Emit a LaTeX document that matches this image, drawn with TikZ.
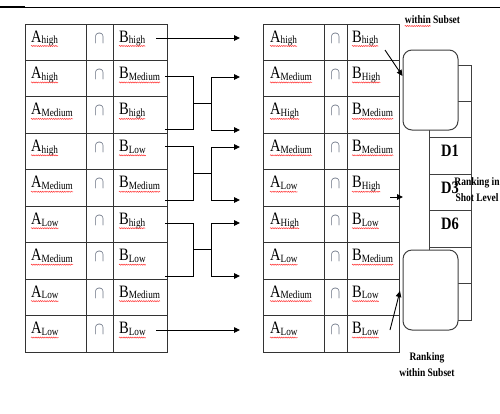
\documentclass[tikz,border=0pt]{standalone}
\usepackage{fontspec}
\setmainfont{Liberation Serif}
\usetikzlibrary{arrows.meta,decorations.pathmorphing}
\definecolor{capcol}{RGB}{75,85,105}
\tikzset{
  gridline/.style={line width=1pt, draw=black!80},
  conn/.style={line width=0.9pt, draw=black},
  arr/.style={conn, -{Triangle[length=6pt,width=5.5pt]}},
  celltext/.style={inner sep=0pt, anchor=base west, font=\fontsize{14.5}{16}\selectfont},
  captext/.style={inner sep=0pt, anchor=base, font=\fontsize{14.5}{16}\selectfont, text=capcol},
  squig/.style={draw=red!80, line width=0.5pt, decorate, decoration={snake, amplitude=0.55pt, segment length=2.2pt}},
  rbox/.style={draw=black!75, line width=1pt, rounded corners=9pt, fill=white, minimum width=55pt, minimum height=80pt, inner sep=0pt},
  dcell/.style={draw=black!75, line width=1pt, minimum width=42pt, minimum height=36.43pt, inner sep=0pt},
  dtext/.style={inner sep=0pt, anchor=base, font=\fontsize{14.5}{16}\selectfont\bfseries},
  lbl/.style={inner sep=0pt, font=\fontsize{9.5}{13.3}\selectfont\bfseries},
}
\newcommand\vst[1]{\scalebox{1}[1.2]{#1}}
\newcommand\sbt[2]{#1\raisebox{-1.5pt}{\fontsize{9.2}{10}\selectfont #2}}
\begin{document}
\begin{tikzpicture}[x=1pt,y=-1pt]
\useasboundingbox (0,0) rectangle (500,413);
\fill[white] (0,0) rectangle (500,413);
% header rule
\draw[line width=0.9pt] (25,7) -- (500,7);
\draw[line width=2pt] (0,7) -- (25,7);
% left table grid
\draw[gridline] (25,24) rectangle (167,352);
\draw[gridline] (86,24) -- (86,352) (113,24) -- (113,352);
\foreach \k in {1,...,8} \draw[gridline] (25,{24+36.444*\k}) -- (167,{24+36.444*\k});
% right table grid
\draw[gridline] (263,24) rectangle (399,352);
\draw[gridline] (324,24) -- (324,352) (347,24) -- (347,352);
\foreach \k in {1,...,8} \draw[gridline] (263,{24+36.444*\k}) -- (399,{24+36.444*\k});
% cell texts
\foreach \i/\sA/\sB/\tA/\tB in {1/high/high/high/high, 2/high/Medium/Medium/High, 3/Medium/high/High/Medium, 4/high/Low/Medium/Medium, 5/Medium/Medium/Low/High, 6/Low/high/High/Low, 7/Medium/Low/Low/Medium, 8/Low/Medium/Medium/Low, 9/Low/Low/Low/Low}{
  \pgfmathsetmacro\yb{24+36.444*(\i-1)+18}
  \node[celltext] (la\i) at (31,\yb) {\vst{\sbt{A}{\sA}}};
  \node[captext] (lc\i) at (99.5,{\yb+1}) {\vst{$\cap$}};
  \node[celltext] (lb\i) at (119,\yb) {\vst{\sbt{B}{\sB}}};
  \node[celltext] (ra\i) at (270,\yb) {\vst{\sbt{A}{\tA}}};
  \node[captext] (rc\i) at (335.5,{\yb+1}) {\vst{$\cap$}};
  \node[celltext] (rb\i) at (352,\yb) {\vst{\sbt{B}{\tB}}};
  \draw[squig] ([yshift=-4pt]la\i.base west) -- ([yshift=-4pt]la\i.base east);
  \draw[squig] ([yshift=-4pt]lb\i.base west) -- ([yshift=-4pt]lb\i.base east);
  \draw[squig] ([yshift=-4pt]ra\i.base west) -- ([yshift=-4pt]ra\i.base east);
  \draw[squig] ([yshift=-4pt]rb\i.base west) -- ([yshift=-4pt]rb\i.base east);
}
% straight arrows
\coordinate (s1) at (156,38);  \coordinate (e1) at (240,38);
\coordinate (s9) at (156,330); \coordinate (e9) at (240,330);
\draw[arr] (s1) -- (e1);
\draw[arr] (s9) -- (e9);
% bracket 1
\coordinate (b1a) at (165,76);  \coordinate (b1b) at (165,129);
\coordinate (m1) at (211,103);
\coordinate (t1a) at (240,77);  \coordinate (t1b) at (240,130);
\draw[conn] (b1a) -- (193,76) -- (193,129) -- (b1b);
\draw[conn] (193,103) -- (m1);
\draw[arr] (m1) |- (t1a);
\draw[arr] (m1) |- (t1b);
% bracket 2
\coordinate (b2a) at (165,146); \coordinate (b2b) at (165,200);
\coordinate (m2) at (211,173);
\coordinate (t2a) at (240,147); \coordinate (t2b) at (240,200);
\draw[conn] (b2a) -- (193,146) -- (193,200) -- (b2b);
\draw[conn] (193,173) -- (m2);
\draw[arr] (m2) |- (t2a);
\draw[arr] (m2) |- (t2b);
% bracket 3
\coordinate (b3a) at (165,223); \coordinate (b3b) at (165,276);
\coordinate (m3) at (211,249);
\coordinate (t3a) at (240,223); \coordinate (t3b) at (240,276);
\draw[conn] (b3a) -- (193,223) -- (193,276) -- (b3b);
\draw[conn] (193,249) -- (m3);
\draw[arr] (m3) |- (t3a);
\draw[arr] (m3) |- (t3b);
% D column
\foreach \k in {1,...,7} \node[dcell] (dc\k) at (450,{65+36.43*(\k-0.5)}) {};
\node[dtext] (d1) at (450,{65+36.43*2+19}) {\vst{D1}};
\node[dtext] (d3) at (450,{65+36.43*3+19}) {\vst{D3}};
\node[dtext] (d6) at (450,{65+36.43*4+19}) {\vst{D6}};
% rounded boxes
\node[rbox] (box1) at (430.5,90) {};
\node[rbox] (box2) at (430.5,290) {};
% arrows to boxes
\coordinate (p1) at (385,50);  \coordinate (q1) at (402.5,76);
\coordinate (p2) at (390,330); \coordinate (q2) at (400,291);
\coordinate (p3) at (390,197); \coordinate (q3) at (403,197);
\draw[arr] (p1) -- (q1);
\draw[arr] (p2) -- (q2);
\draw[arr] (p3) -- (q3);
% labels
\node[lbl, anchor=base] (ltop) at (432.5,23) {\vst{within Subset}};
\draw[squig] ([yshift=-3pt]ltop.base west) -- ++(26,0);
\node[lbl] (lright) at (477,190) {\vst{\begin{tabular}{@{}c@{}}Ranking in\\Shot Level\end{tabular}}};
\node[lbl] (lbot) at (427,365) {\vst{\begin{tabular}{@{}c@{}}Ranking\\within Subset\end{tabular}}};
\end{tikzpicture}
\end{document}
